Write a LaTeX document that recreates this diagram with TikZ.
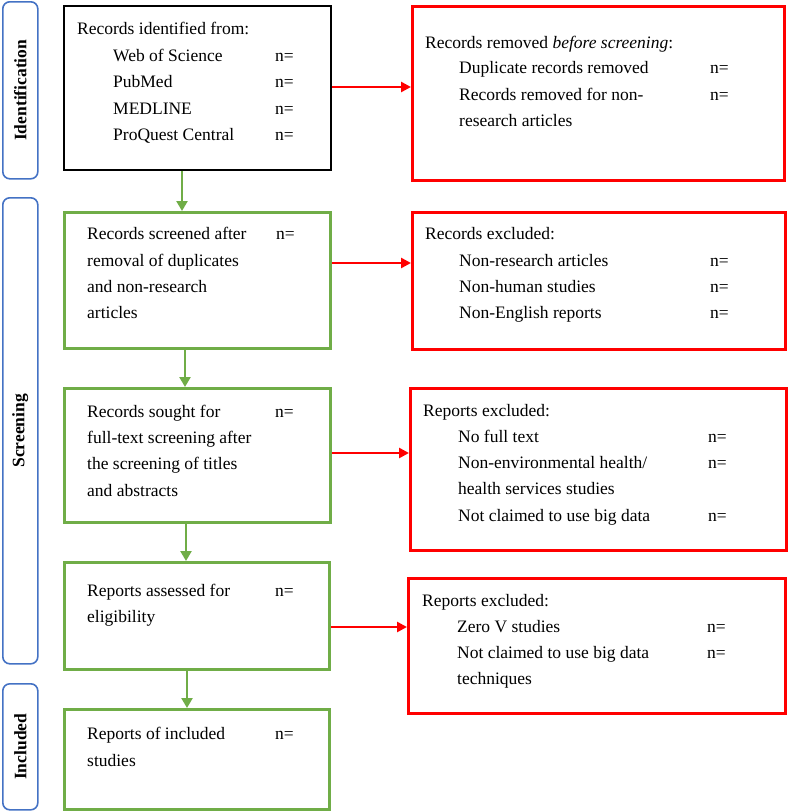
\documentclass[tikz,border=0pt]{standalone}
\usepackage{fontspec}
\setmainfont{Liberation Serif}
\usetikzlibrary{arrows.meta}
\definecolor{sideblue}{HTML}{4472C4}
\definecolor{pgreen}{HTML}{70AD47}
\definecolor{pred}{HTML}{FF0000}
\begin{document}
\begin{tikzpicture}[x=1pt,y=-1pt,
  every node/.style={font=\fontsize{17.5}{21}\selectfont},
  txt/.style={anchor=base west, inner sep=0pt},
  sidebox/.style={draw=sideblue, line width=1.6pt, rounded corners=7pt, anchor=north west, inner sep=0pt, minimum width=35pt},
  sidelabel/.style={rotate=90, inner sep=0pt},
  blackbox/.style={draw=black, line width=1.8pt, anchor=north west, inner sep=0pt},
  greenbox/.style={draw=pgreen, line width=2.8pt, anchor=north west, inner sep=0pt},
  redbox/.style={draw=pred, line width=2.8pt, anchor=north west, inner sep=0pt},
  garrow/.style={draw=pgreen, line width=2.6pt, -{Triangle[length=10pt,width=11pt]}},
  rarrow/.style={draw=pred, line width=2.8pt, -{Triangle[length=10pt,width=10pt]}}
]
\useasboundingbox (0,0) rectangle (788,811);

% side boxes
\node[sidebox, minimum height=177pt] (sI) at (2,1) {};
\node[sidelabel] (lI) at (sI.center) {\bfseries Identification};
\node[sidebox, minimum height=466pt] (sS) at (2,197) {};
\node[sidelabel] (lS) at (sS.center) {\bfseries Screening};
\node[sidebox, minimum height=126pt] (sN) at (2,683) {};
\node[sidelabel] (lN) at (sN.center) {\bfseries Included};

% left boxes
\node[blackbox, minimum width=267pt, minimum height=164pt] (b1) at (63,5) {};
\node[greenbox, minimum width=266pt, minimum height=136pt] (b2) at (63,211) {};
\node[greenbox, minimum width=266pt, minimum height=134pt] (b3) at (63,387) {};
\node[greenbox, minimum width=265pt, minimum height=107pt] (b4) at (63,561) {};
\node[greenbox, minimum width=265pt, minimum height=100pt] (b5) at (63,708) {};

% right boxes
\node[redbox, minimum width=372pt, minimum height=174pt] (bA) at (411,5) {};
\node[redbox, minimum width=373pt, minimum height=137pt] (bB) at (411,211) {};
\node[redbox, minimum width=376pt, minimum height=162pt] (bC) at (409,387) {};
\node[redbox, minimum width=377pt, minimum height=135pt] (bD) at (407,577) {};

% texts box 1
\node[txt] (t1a) at (77,34) {Records identified from:};
\node[txt] (t1b) at (113,61) {Web of Science};
\node[txt] (t1c) at (113,87) {PubMed};
\node[txt] (t1d) at (113,114) {MEDLINE};
\node[txt] (t1e) at (113,140) {ProQuest Central};
\node[txt] (n1b) at (275,61) {n=};
\node[txt] (n1c) at (275,87) {n=};
\node[txt] (n1d) at (275,114) {n=};
\node[txt] (n1e) at (275,140) {n=};

% box A
\node[txt] (tAa) at (425,48) {Records removed \textit{before screening}:};
\node[txt] (tAb) at (459,73) {Duplicate records removed};
\node[txt] (tAc) at (459,100) {Records removed for non-};
\node[txt] (tAd) at (459,126) {research articles};
\node[txt] (nAb) at (710,73) {n=};
\node[txt] (nAc) at (710,100) {n=};

% box 2
\node[txt] (t2a) at (87,239) {Records screened after};
\node[txt] (t2b) at (87,266) {removal of duplicates};
\node[txt] (t2c) at (87,292) {and non-research};
\node[txt] (t2d) at (87,318) {articles};
\node[txt] (n2a) at (276,239) {n=};

% box B
\node[txt] (tBa) at (425,239) {Records excluded:};
\node[txt] (tBb) at (459,266) {Non-research articles};
\node[txt] (tBc) at (459,292) {Non-human studies};
\node[txt] (tBd) at (459,318) {Non-English reports};
\node[txt] (nBb) at (710,266) {n=};
\node[txt] (nBc) at (710,292) {n=};
\node[txt] (nBd) at (710,318) {n=};

% box 3
\node[txt] (t3a) at (87,417) {Records sought for};
\node[txt] (t3b) at (87,443) {full-text screening after};
\node[txt] (t3c) at (87,469) {the screening of titles};
\node[txt] (t3d) at (87,496) {and abstracts};
\node[txt] (n3a) at (275,417) {n=};

% box C
\node[txt] (tCa) at (423,416) {Reports excluded:};
\node[txt] (tCb) at (458,442) {No full text};
\node[txt] (tCc) at (458,468) {Non-environmental health/};
\node[txt] (tCd) at (458,494) {health services studies};
\node[txt] (tCe) at (458,521) {Not claimed to use big data};
\node[txt] (nCb) at (708,442) {n=};
\node[txt] (nCc) at (708,468) {n=};
\node[txt] (nCe) at (708,521) {n=};

% box 4
\node[txt] (t4a) at (87,596) {Reports assessed for};
\node[txt] (t4b) at (87,622) {eligibility};
\node[txt] (n4a) at (275,596) {n=};

% box D
\node[txt] (tDa) at (422,606) {Reports excluded:};
\node[txt] (tDb) at (457,632) {Zero V studies};
\node[txt] (tDc) at (457,658) {Not claimed to use big data};
\node[txt] (tDd) at (457,684) {techniques};
\node[txt] (nDb) at (707,632) {n=};
\node[txt] (nDc) at (707,658) {n=};

% box 5
\node[txt] (t5a) at (87,739) {Reports of included};
\node[txt] (t5b) at (87,766) {studies};
\node[txt] (n5a) at (275,739) {n=};

% green arrows
\draw[garrow] ([xshift=119pt]b1.south west) -- ([xshift=119pt]b2.north west);
\draw[garrow] ([xshift=122pt]b2.south west) -- ([xshift=122pt]b3.north west);
\draw[garrow] ([xshift=123pt]b3.south west) -- ([xshift=123pt]b4.north west);
\draw[garrow] ([xshift=124pt]b4.south west) -- ([xshift=124pt]b5.north west);

% red arrows
\coordinate (r1) at ([yshift=-82pt]b1.north east);
\coordinate (r2) at ([yshift=-52pt]b2.north east);
\coordinate (r3) at ([yshift=-66pt]b3.north east);
\coordinate (r4) at ([yshift=-66pt]b4.north east);
\draw[rarrow] (r1) -- (r1 -| bA.west);
\draw[rarrow] (r2) -- (r2 -| bB.west);
\draw[rarrow] (r3) -- (r3 -| bC.west);
\draw[rarrow] (r4) -- (r4 -| bD.west);
\end{tikzpicture}
\end{document}
